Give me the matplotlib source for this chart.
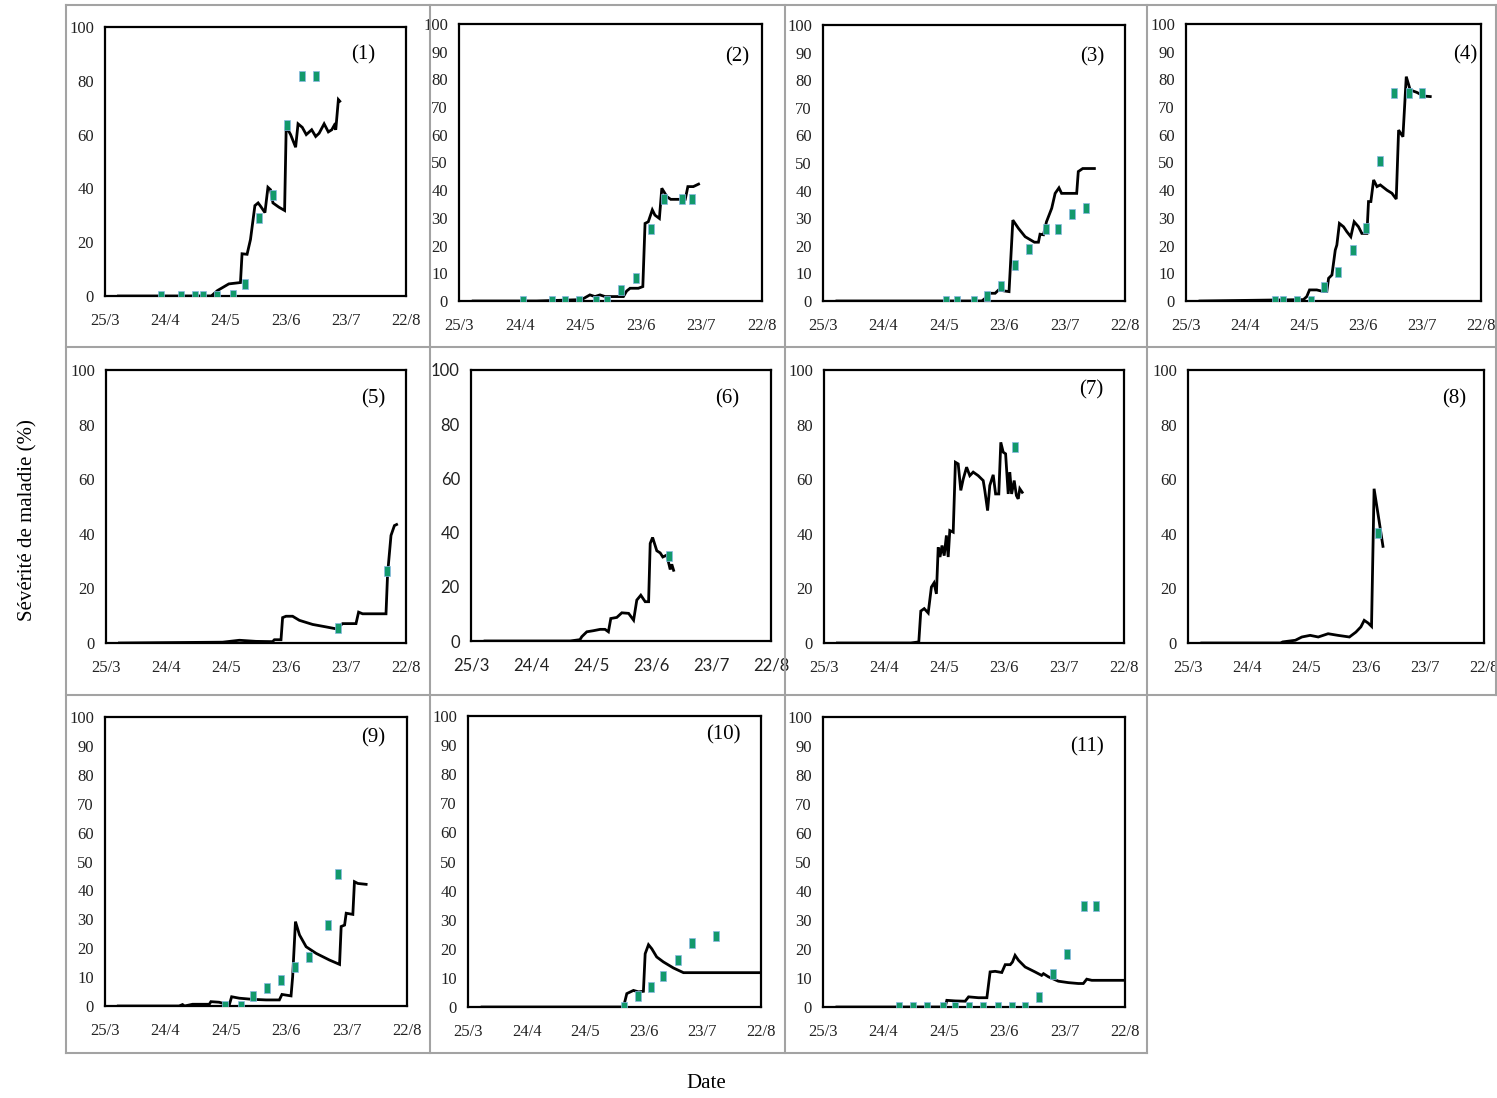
import matplotlib
matplotlib.use("Agg")
import matplotlib.pyplot as plt
from matplotlib.lines import Line2D
from matplotlib.path import Path

# ---------------------------------------------------------------------------
# Data: days after 25 March, disease severity (%)
# sim* = simulated severity (line), obs* = observed severity (markers)
# ---------------------------------------------------------------------------
date_labels = ["25/3", "24/4", "24/5", "23/6", "23/7", "22/8"]
date_ticks = [0, 30, 60, 90, 120, 150]
panel_names = ["(1)", "(2)", "(3)", "(4)", "(5)", "(6)", "(7)", "(8)", "(9)", "(10)", "(11)"]

sim1_day = [6.7, 53, 56, 61.7, 67.5, 68.3, 70.8, 72.5, 74.7, 76.3, 77.5, 79.7, 81.2, 82.5, 83.7, 86.7,
            89.5, 90.3, 92.5, 95, 96.2, 98.3, 100.3, 103, 105, 106.7, 109.2, 111.3, 113, 114.2, 115, 116.3, 117]
sim1_sev = [0, 0, 2, 4.5, 5, 15.7, 15.5, 21, 33.6, 34.6, 33.4, 31, 40.4, 39.5, 34.6, 33,
            31.8, 63, 60, 55.3, 64, 62.7, 60, 61.8, 59.3, 60.5, 64, 61, 61.8, 63.4, 61.8, 73, 72.4]
obs1_day = [28, 37.8, 45, 48.7, 55.8, 63.8, 69.7, 76.7, 83.7, 90.5, 98, 105]
obs1_sev = [0, 0, 0, 0, 0, 0.4, 4.3, 29, 37.5, 63.4, 81.6, 81.6]

sim2_day = [7, 38.4, 60.7, 64.8, 67.3, 69.8, 72.3, 81.4, 83, 84.7, 88.8, 91, 92.1, 93.7, 95.7, 97,
            99.2, 100.4, 102.9, 104.8, 112, 113.3, 116, 118.6]
sim2_sev = [0, 0, 0.5, 2.2, 1.6, 2.2, 1.6, 1.6, 3.6, 4.6, 4.6, 5.2, 28, 28.6, 32.9, 31,
            29.8, 40.7, 37.7, 36.7, 36.7, 41.3, 41.3, 42.2]
obs2_day = [31.8, 45.8, 52.4, 59.5, 67.6, 73.4, 80.2, 87.5, 95.1, 101.5, 110.3, 115.4]
obs2_sev = [0, 0, 0, 0, 0, 0, 4, 8.4, 26, 36.7, 36.7, 36.7]

sim3_day = [6.9, 78.9, 80.6, 82.2, 85.5, 87.2, 90.5, 92.4, 94.3, 97.1, 100.4, 105, 107, 107.8, 109.5,
            111, 113.6, 115.3, 117.2, 118.5, 126, 126.8, 129, 134.8]
sim3_sev = [0, 0, 1, 2.8, 2.8, 4, 3.6, 3.4, 29.3, 26.3, 23.3, 21.3, 21.3, 24.2, 24,
            28.7, 33.6, 39, 41, 39, 39, 46.9, 48, 48]
obs3_day = [61, 66.8, 74.8, 81.4, 88.3, 95.4, 102.5, 110.6, 116.6, 123.5, 130.6]
obs3_sev = [0, 0, 0, 1.8, 5.4, 13, 19, 26, 26, 31.4, 33.8]

sim4_day = [7.1, 59.7, 61.4, 62.8, 66.5, 69.9, 71.6, 72.5, 74.2, 75.9, 76.7, 78, 80.1, 81.8, 83.8,
            85.5, 87.7, 89.4, 92, 92.8, 94, 95.4, 97.1, 98.8, 102.2, 104.7, 106.9, 108.1, 110.3,
            112, 114, 117.4, 120.8, 124.2]
sim4_sev = [0, 0.5, 1.6, 4, 4, 3.4, 3.4, 8.2, 9.4, 18.4, 20.2, 28, 26.8, 25, 23.2,
            28.6, 26.8, 24.4, 24.4, 35.9, 35.9, 43.7, 41.3, 41.9, 40, 38.9, 36.8, 61.7, 59.3,
            81, 76.2, 75.3, 74, 73.8]
obs4_day = [45.3, 49.2, 56.3, 63.6, 70.4, 77.5, 84.7, 91.6, 98.8, 105.9, 113.2, 120]
obs4_sev = [0, 0, 0, 0, 5.2, 10.3, 18.4, 26.5, 50.7, 75, 75, 75]

sim5_day = [6.7, 58.3, 66.7, 75, 83.3, 84.2, 87.5, 88.3, 90, 93.3, 96.7, 103.3, 110, 115, 118.3,
            125, 126.3, 128.3, 140, 140.8, 142.5, 144.2, 145.3]
sim5_sev = [0, 0.3, 1, 0.6, 0.5, 1.2, 1.2, 9.3, 9.8, 9.8, 8.3, 6.8, 5.9, 5.2, 7.1,
            7.1, 11.3, 10.7, 10.7, 25.4, 39.4, 43, 43.4]
obs5_day = [115.8, 140.5]
obs5_sev = [5.5, 26.3]

sim6_day = [7, 49.6, 54.5, 55.4, 57.9, 61.2, 64.6, 67, 68.7, 69.9, 72.9, 75.4, 78.8, 81.3, 82.9,
            84.9, 87.1, 88.8, 89.6, 90.8, 92.9, 94.6, 95.9, 97.9, 99.6, 100.4, 101.3]
sim6_sev = [0, 0, 0.5, 1.6, 3.4, 3.8, 4.3, 4.3, 3.4, 8.3, 8.7, 10.4, 10.2, 7.7, 15.1,
            16.9, 14.5, 14.5, 36, 38.2, 33.3, 32.5, 31, 31.7, 26.4, 28.3, 26.1]
obs6_day = [98.9]
obs6_sev = [31.4]

sim7_day = [6.7, 43.4, 47.4, 48.4, 50.1, 52.1, 53.7, 55, 56.2, 57.1, 58, 59, 60.1, 61.2, 62.1, 62.9,
            64.6, 65.7, 67.1, 68.4, 69.6, 71.3, 72.9, 74.6, 77.1, 79.6, 80.4, 81.8, 82.9, 84.6,
            85.8, 87.4, 88.4, 89.6, 90.8, 92.1, 92.9, 93.8, 95.1, 96.2, 97.1, 97.9, 99.1]
sim7_sev = [0, 0, 0.4, 11.7, 12.6, 11, 20.5, 22, 18, 35, 31.5, 35.7, 32, 39.4, 31.5, 41.2,
            40.6, 66.2, 65.6, 55.9, 60, 64.4, 61.3, 62.6, 61.3, 59.5, 55.9, 48.5, 57.7, 61.6,
            54.6, 54.6, 73.5, 69.9, 69.3, 54.6, 62.6, 54.6, 59.5, 54, 52.8, 56.5, 55.2]
obs7_day = [95.4]
obs7_sev = [71.7]

sim8_day = [7, 46.9, 48, 54.4, 57.7, 61.9, 66, 71, 76, 81.8, 85.1, 87.6, 89.3, 91.3, 93, 94.3, 96.8, 98.8]
sim8_sev = [0, 0, 0.4, 1, 2.2, 2.8, 2.2, 3.4, 2.8, 2.2, 4, 5.9, 8.3, 7.3, 6.1, 56.5, 44.9, 35.4]
obs8_day = [96.5]
obs8_sev = [40.4]

sim9_day = [6.6, 36.8, 38.5, 39.5, 43.5, 51.8, 52.6, 56.7, 61.7, 62.9, 66.7, 73.3, 80, 86.6, 87.9,
            92.4, 93.2, 94.6, 96.6, 99.9, 104.9, 111.5, 116.5, 117.3, 119, 119.8, 123.1, 123.9,
            125.6, 129.7]
sim9_sev = [0, 0, 0.5, 0, 0.6, 0.6, 1.5, 1.3, 0.3, 3.2, 2.7, 2.3, 2.1, 2.1, 4,
            3.5, 10.1, 29.2, 24.6, 20.5, 18.2, 15.9, 14.4, 27.5, 28, 32.1, 31.7, 43,
            42.4, 42.1]
obs9_day = [59.7, 67.5, 73.7, 80.6, 87.6, 94.6, 101.5, 110.7, 115.6]
obs9_sev = [0, 0, 3.5, 6.3, 9, 13.6, 17.1, 28, 45.7]

sim10_day = [7.2, 79.6, 81.3, 84.7, 87.3, 89.8, 90.7, 92.4, 94.1, 96.6, 100, 105.2, 110.3, 150]
sim10_sev = [0, 0, 4.6, 5.7, 5.2, 5.4, 18.3, 21.4, 20, 17.2, 15.5, 13.4, 11.8, 11.8]
obs10_day = [80, 86.8, 93.7, 99.7, 107.7, 114.9, 126.8]
obs10_sev = [0, 3.7, 6.9, 10.6, 16.1, 22.1, 24.4]

sim11_day = [6.9, 60.7, 61.5, 65.7, 70.6, 72.3, 77.2, 81.4, 83, 85.5, 88.8, 90.5, 93, 94.1, 95.4,
             97.1, 100.4, 105.3, 108.6, 109.5, 112, 116.9, 121.9, 126.8, 129.3, 131, 133.5, 150]
sim11_sev = [0, 0, 2.3, 2.1, 2, 3.5, 3.2, 3.2, 12.1, 12.3, 11.9, 14.6, 14.6, 15.5, 17.8,
             16.1, 13.8, 12.1, 10.9, 11.5, 10.4, 8.9, 8.4, 8.1, 8.1, 9.6, 9.2, 9.2]
obs11_day = [37.7, 44.7, 51.6, 59.5, 65.7, 72.3, 79.7, 86.7, 93.8, 100.4, 107.3, 114.4, 121.4, 129.7, 135.6]
obs11_sev = [0, 0, 0, 0, 0, 0, 0, 0, 0, 0, 3.5, 11.5, 18.4, 34.9, 34.9]

sim_days = [sim1_day, sim2_day, sim3_day, sim4_day, sim5_day, sim6_day, sim7_day, sim8_day,
            sim9_day, sim10_day, sim11_day]
sim_sevs = [sim1_sev, sim2_sev, sim3_sev, sim4_sev, sim5_sev, sim6_sev, sim7_sev, sim8_sev,
            sim9_sev, sim10_sev, sim11_sev]
obs_days = [obs1_day, obs2_day, obs3_day, obs4_day, obs5_day, obs6_day, obs7_day, obs8_day,
            obs9_day, obs10_day, obs11_day]
obs_sevs = [obs1_sev, obs2_sev, obs3_sev, obs4_sev, obs5_sev, obs6_sev, obs7_sev, obs8_sev,
            obs9_sev, obs10_sev, obs11_sev]

# y tick step per panel
y_steps = [20, 10, 10, 10, 20, 20, 20, 20, 10, 10, 10]

# ---------------------------------------------------------------------------
# Layout (pixel boxes: left, right, top, bottom) on a 1497 x 1098 canvas
# ---------------------------------------------------------------------------
W, H = 1497, 1098
frames = [
    (105, 406, 27, 296), (459, 762, 24, 301), (823, 1125, 25, 301), (1186, 1481, 24, 301),
    (106, 406, 370, 643), (471, 771, 370, 641), (824, 1124, 370, 643), (1188, 1484, 370, 643),
    (105, 407, 717, 1006), (468, 761, 716, 1007), (823, 1125, 717, 1007),
]
name_pos = [
    (0.857, 0.896), (0.917, 0.881), (0.891, 0.884), (0.946, 0.888),
    (0.890, 0.894), (0.853, 0.893), (0.890, 0.927), (0.900, 0.894),
    (0.887, 0.927), (0.870, 0.935), (0.874, 0.897),
]

SERIF = "Liberation Serif"
obs_face = "#12996b"
obs_edge = "#8ab8e6"
rect_marker = Path([(-0.33, -0.5), (0.33, -0.5), (0.33, 0.5), (-0.33, 0.5), (-0.33, -0.5)],
                   [Path.MOVETO, Path.LINETO, Path.LINETO, Path.LINETO, Path.CLOSEPOLY])

fig = plt.figure(figsize=(W / 100, H / 100), dpi=100)
fig.patch.set_facecolor("white")

for i in range(11):
    l, r, t, b = frames[i]
    ax = fig.add_axes([l / W, 1 - b / H, (r - l) / W, (b - t) / H])
    ax.plot(sim_days[i], sim_sevs[i], color="black", lw=2.0, solid_joinstyle="miter", zorder=3)
    ax.plot(obs_days[i], obs_sevs[i], linestyle="none", marker=rect_marker, markersize=6.8,
            markerfacecolor=obs_face, markeredgecolor=obs_edge, markeredgewidth=0.5, zorder=4)
    ax.set_xlim(0, 150)
    ax.set_ylim(0, 100)
    ax.set_xticks(date_ticks)
    ax.set_xticklabels(date_labels)
    ax.set_yticks(list(range(0, 101, y_steps[i])))
    tick_family = "Lato" if i == 5 else SERIF
    ax.tick_params(axis="both", length=0, labelsize=12, labelcolor="#222222")
    ax.tick_params(axis="y", pad=8)
    ax.tick_params(axis="x", pad=12)
    for lab in ax.get_xticklabels() + ax.get_yticklabels():
        lab.set_family(tick_family)
    for sp in ax.spines.values():
        sp.set_linewidth(1.6)
        sp.set_color("black")
    ax.text(name_pos[i][0], name_pos[i][1], panel_names[i], transform=ax.transAxes,
            ha="center", va="center", fontsize=15, family=SERIF)

# Cell grid around the panels
grid_color = "#a3a3a3"
def seg(x0, y0, x1, y1):
    fig.add_artist(Line2D([x0 / W, x1 / W], [1 - y0 / H, 1 - y1 / H],
                          color=grid_color, lw=1.5, transform=fig.transFigure))

seg(66, 5, 1497, 5)
seg(66, 347, 1497, 347)
seg(66, 695, 1497, 695)
seg(66, 1053, 1147, 1053)
for xv in (66, 430, 785, 1147):
    seg(xv, 5, xv, 1053)
seg(1496, 5, 1496, 695)

fig.text(28 / W, 1 - 520 / H, "Sévérité de maladie (%)", rotation=90, ha="center", va="center",
         fontsize=15, family=SERIF)
fig.text(706 / W, 1 - 1083 / H, "Date", ha="center", va="center", fontsize=15, family=SERIF)

fig.savefig("out.png", dpi=100, facecolor="white")
